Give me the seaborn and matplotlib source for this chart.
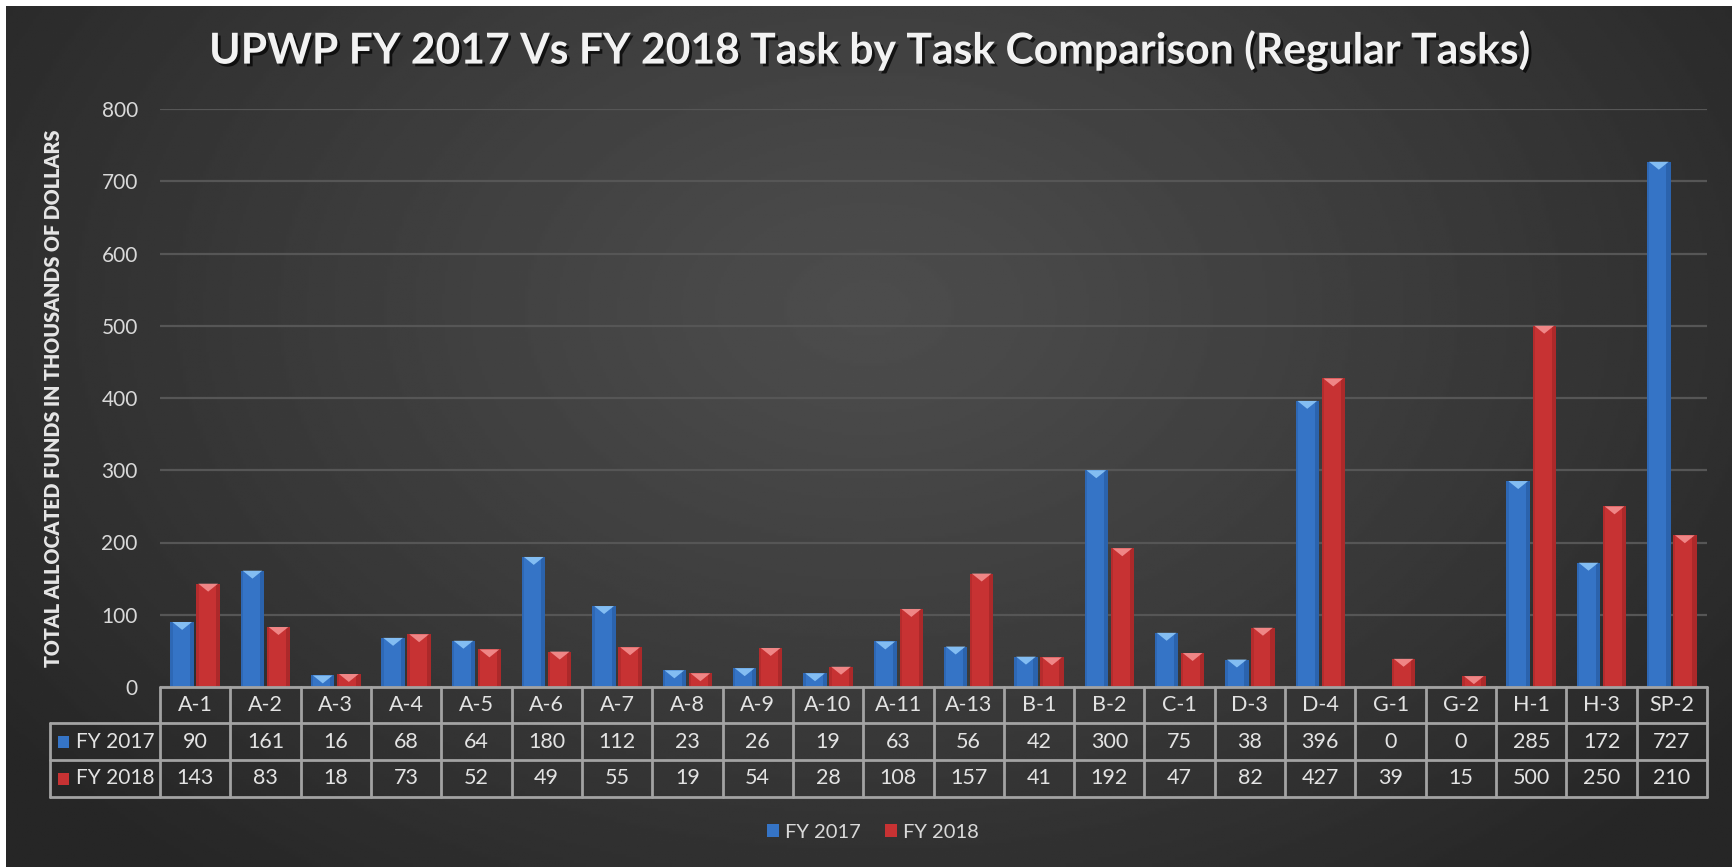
import numpy as np
import pandas as pd
import matplotlib
matplotlib.use('Agg')
import matplotlib.pyplot as plt
import matplotlib.patheffects as pe
import matplotlib.transforms as mtransforms
from matplotlib.patches import Polygon, Rectangle
import seaborn as sns

# Chart data
tasks = ['A-1', 'A-2', 'A-3', 'A-4', 'A-5', 'A-6', 'A-7', 'A-8', 'A-9', 'A-10', 'A-11',
         'A-13', 'B-1', 'B-2', 'C-1', 'D-3', 'D-4', 'G-1', 'G-2', 'H-1', 'H-3', 'SP-2']
fy2017 = [90, 161, 16, 68, 64, 180, 112, 23, 26, 19, 63, 56, 42, 300, 75, 38, 396, 0, 0, 285, 172, 727]
fy2018 = [143, 83, 18, 73, 52, 49, 55, 19, 54, 28, 108, 157, 41, 192, 47, 82, 427, 39, 15, 500, 250, 210]
years = ['FY 2017', 'FY 2018']
yticks = [0, 100, 200, 300, 400, 500, 600, 700, 800]

title = 'UPWP FY 2017 Vs FY 2018 Task by Task Comparison (Regular Tasks)'
ylabel = 'TOTAL ALLOCATED FUNDS IN THOUSANDS OF DOLLARS'

blue, red = '#3574c6', '#c73233'
blue_light, red_light = '#8cc6f8', '#f49090'
blue_dark, red_dark = '#1f4f8f', '#8c1f20'
txt = '#e3e3e3'
border = '#a3a3a3'

df = pd.DataFrame({
    'task': tasks * 2,
    'value': fy2017 + fy2018,
    'year': [years[0]] * len(tasks) + [years[1]] * len(tasks),
})

sns.set_style('white')
plt.rcParams['font.family'] = ['Lato', 'DejaVu Sans']

W, H = 1732, 867
fig = plt.figure(figsize=(W / 100, H / 100), dpi=100, facecolor='white')

# dark radial-gradient background
bg = fig.add_axes([6 / W, 0, 1 - 6 / W, 1 - 6 / H])
yy, xx = np.mgrid[0:1:300j, 0:1:600j]
r = np.sqrt(((xx - 0.5) / 0.62) ** 2 + ((yy - 0.35) / 0.85) ** 2)
shade = 0.30 - 0.15 * np.clip(r, 0, 1) ** 1.2
bg.imshow(shade, cmap='gray', vmin=0, vmax=1, aspect='auto', extent=[0, 1, 0, 1])
bg.axis('off')

# main axes
ax_left, ax_right, ax_top, ax_bot = 160, 1707, 109, 687
ax = fig.add_axes([ax_left / W, 1 - ax_bot / H, (ax_right - ax_left) / W, (ax_bot - ax_top) / H])
ax.set_facecolor('none')

sns.barplot(data=df, x='task', y='value', hue='year', palette=[blue, red],
            width=0.74, gap=0.1, ax=ax, legend=False, saturation=1,
            edgecolor='none', linewidth=0, zorder=3)

ax.set_xlim(-0.5, len(tasks) - 0.5)
ax.set_ylim(0, 800)
ax.set_yticks(yticks)
ax.yaxis.grid(True, color='#565656', lw=1.6, zorder=0)
ax.set_axisbelow(True)
ax.set_xticks(range(len(tasks)))
ax.set_xticklabels([])
ax.tick_params(axis='x', length=0)
ax.tick_params(axis='y', length=0, labelsize=15, labelcolor='#d9d9d9', pad=16)
ax.set_xlabel('')
ax.set_ylabel(ylabel, fontsize=14.2, fontweight='heavy', color='#e6e6e6')
ax.yaxis.set_label_coords(-0.0625, 0.5)
sns.despine(ax=ax, left=True, bottom=True)

# bevel look on every bar
for p in list(ax.patches):
    h = p.get_height()
    if h <= 0:
        continue
    x0 = p.get_x()
    w = p.get_width()
    is_blue = p.get_facecolor()[2] > 0.5
    light = blue_light if is_blue else red_light
    dark = blue_dark if is_blue else red_dark
    ax.add_patch(Rectangle((x0 + w * 0.82, 0), w * 0.18, h, facecolor=dark, alpha=0.45,
                           lw=0, zorder=4))
    ax.add_patch(Rectangle((x0, 0), w * 0.1, h, facecolor=dark, alpha=0.3, lw=0, zorder=4))
    d = min(11, h)
    ax.add_patch(Polygon([(x0 + w * 0.08, h), (x0 + w * 0.92, h), (x0 + w * 0.5, h - d)],
                         closed=True, facecolor=light, alpha=0.9, lw=0, zorder=5))

# data table under the axes
axh = ax_bot - ax_top
trans = mtransforms.blended_transform_factory(ax.transData, ax.transAxes)
rows_y = [0, -36 / axh, -73 / axh, -110 / axh]
n = len(tasks)
lab_left = ax.transData.inverted().transform((50, 0))[0]
lk = dict(color=border, lw=2, transform=trans, clip_on=False, zorder=6)
ax.plot([-0.5, n - 0.5], [rows_y[0]] * 2, **lk)
for yv in rows_y[1:]:
    ax.plot([lab_left, n - 0.5], [yv] * 2, **lk)
for i in range(n + 1):
    ax.plot([i - 0.5] * 2, [rows_y[0], rows_y[3]], **lk)
ax.plot([lab_left] * 2, [rows_y[1], rows_y[3]], **lk)

fs = 15.5
for i, t in enumerate(tasks):
    ax.text(i, (rows_y[0] + rows_y[1]) / 2, t, transform=trans, ha='center', va='center',
            fontsize=fs, color=txt)
    ax.text(i, (rows_y[1] + rows_y[2]) / 2, str(fy2017[i]), transform=trans, ha='center',
            va='center', fontsize=fs, color=txt)
    ax.text(i, (rows_y[2] + rows_y[3]) / 2, str(fy2018[i]), transform=trans, ha='center',
            va='center', fontsize=fs, color=txt)

lab_x = ax.transData.inverted().transform((76, 0))[0]
mk_x = ax.transData.inverted().transform((58, 0))[0]
mk_w = ax.transData.inverted().transform((69, 0))[0] - mk_x
for k, (yr, col) in enumerate(zip(years, [blue, red])):
    yc = (rows_y[k + 1] + rows_y[k + 2]) / 2
    ax.text(lab_x, yc, yr, transform=trans, ha='left', va='center', fontsize=fs - 0.5, color=txt)
    ax.add_patch(Rectangle((mk_x, yc - 6 / axh), mk_w, 12 / axh, facecolor=col, lw=0,
                           transform=trans, clip_on=False, zorder=7))

# legend
handles = [Rectangle((0, 0), 1, 1, facecolor=c, lw=0) for c in [blue, red]]
fig.legend(handles, years, loc='center', bbox_to_anchor=(873 / W, 1 - 832 / H), ncol=2,
           frameon=False, fontsize=14.5, labelcolor='#d9d9d9', handlelength=0.6,
           handleheight=0.6, handletextpad=0.3, columnspacing=1.2)

# title
fig.text(869 / W, 1 - 50 / H, title, ha='center', va='center', fontsize=30.7,
         fontweight='bold', color='#f2f2f2',
         path_effects=[pe.withSimplePatchShadow(offset=(2, -2), shadow_rgbFace='black', alpha=0.7)])

fig.savefig('out.png', dpi=100, facecolor=fig.get_facecolor())
